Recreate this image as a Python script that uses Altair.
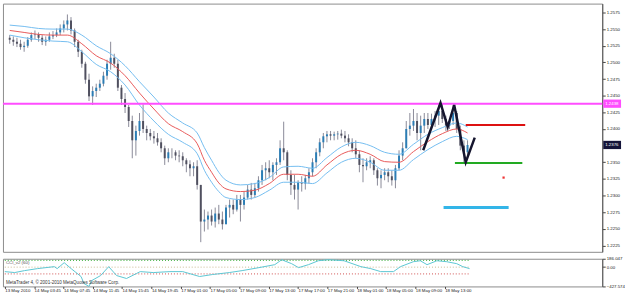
import altair as alt
import pandas as pd

# ---------------- data ----------------
first_open = 1.2537
highs = [1.2541,1.2539,1.2537,1.2534,1.2531,1.2538,1.2545,1.2548,1.2545,1.2541,1.2539,1.2545,1.2547,1.2551,
         1.2557,1.2563,1.2572,1.2568,1.2551,1.2534,1.2519,1.2501,1.2483,1.2464,1.2468,1.2474,1.2486,1.2504,
         1.2531,1.2513,1.2504,1.2466,1.2454,1.2436,1.2420,1.2405,1.2424,1.2437,1.2405,1.2400,1.2397,1.2394,
         1.2386,1.2375,1.2371,1.2371,1.2368,1.2368,1.2365,1.2356,1.2353,1.2350,1.2353,1.2316,1.2279,1.2276,
         1.2279,1.2282,1.2286,1.2276,1.2286,1.2294,1.2294,1.2301,1.2301,1.2306,1.2316,1.2319,1.2319,1.2329,
         1.2346,1.2350,1.2353,1.2350,1.2356,1.2383,1.2411,1.2368,1.2338,1.2331,1.2323,1.2329,1.2331,1.2341,
         1.2356,1.2371,1.2386,1.2394,1.2397,1.2397,1.2396,1.2397,1.2399,1.2397,1.2392,1.2386,1.2383,1.2368,
         1.2356,1.2356,1.2359,1.2356,1.2341,1.2338,1.2341,1.2341,1.2338,1.2346,1.2368,1.2380,1.2412,1.2424,
         1.2430,1.2424,1.2420,1.2424,1.2424,1.2423,1.2427,1.2436,1.2439,1.2420,1.2415,1.2436,1.2427,1.2405,1.2383,1.2383]
lows = [1.2528,1.2525,1.2523,1.2519,1.2516,1.2522,1.2531,1.2535,1.2531,1.2526,1.2525,1.2531,1.2535,1.2538,
        1.2541,1.2545,1.2548,1.2542,1.2523,1.2508,1.2492,1.2468,1.2442,1.2436,1.2448,1.2457,1.2464,1.2474,
        1.2489,1.2492,1.2457,1.2436,1.2424,1.2403,1.2356,1.2360,1.2390,1.2394,1.2383,1.2383,1.2378,1.2375,
        1.2365,1.2346,1.2350,1.2356,1.2353,1.2350,1.2344,1.2335,1.2329,1.2329,1.2309,1.2230,1.2246,1.2249,
        1.2255,1.2252,1.2257,1.2249,1.2257,1.2267,1.2272,1.2276,1.2261,1.2279,1.2294,1.2294,1.2297,1.2306,
        1.2316,1.2323,1.2326,1.2323,1.2331,1.2346,1.2353,1.2323,1.2301,1.2294,1.2279,1.2306,1.2309,1.2318,
        1.2329,1.2341,1.2359,1.2371,1.2380,1.2383,1.2383,1.2384,1.2386,1.2380,1.2374,1.2365,1.2356,1.2335,
        1.2320,1.2338,1.2341,1.2331,1.2315,1.2311,1.2323,1.2320,1.2315,1.2311,1.2338,1.2353,1.2371,1.2390,
        1.2397,1.2383,1.2368,1.2394,1.2400,1.2400,1.2403,1.2406,1.2409,1.2397,1.2400,1.2406,1.2394,1.2368,1.2350,1.2359]
closes = [1.2534,1.2531,1.2528,1.2523,1.2525,1.2534,1.2541,1.2542,1.2537,1.2531,1.2534,1.2539,1.2541,1.2545,
          1.2551,1.2557,1.2563,1.2548,1.2531,1.2516,1.2498,1.2474,1.2449,1.2457,1.2462,1.2468,1.2480,1.2498,
          1.2507,1.2498,1.2462,1.2445,1.2433,1.2412,1.2383,1.2397,1.2412,1.2400,1.2394,1.2389,1.2386,1.2380,
          1.2371,1.2356,1.2365,1.2365,1.2360,1.2359,1.2353,1.2347,1.2341,1.2344,1.2316,1.2261,1.2264,1.2270,
          1.2261,1.2273,1.2264,1.2257,1.2282,1.2286,1.2279,1.2294,1.2286,1.2297,1.2309,1.2301,1.2311,1.2323,
          1.2338,1.2341,1.2335,1.2346,1.2350,1.2371,1.2365,1.2331,1.2316,1.2309,1.2320,1.2318,1.2326,1.2335,
          1.2350,1.2365,1.2380,1.2389,1.2392,1.2390,1.2392,1.2393,1.2390,1.2386,1.2380,1.2371,1.2362,1.2346,
          1.2344,1.2350,1.2353,1.2338,1.2326,1.2331,1.2335,1.2329,1.2323,1.2341,1.2360,1.2371,1.2400,1.2405,
          1.2412,1.2394,1.2405,1.2415,1.2406,1.2415,1.2420,1.2427,1.2415,1.2405,1.2412,1.2424,1.2400,1.2375,1.2365,1.2376]
candle_bars = list(range(0, 2 * len(closes), 2))

ma_bars = [0, 8, 16, 24, 32, 40, 48, 56, 64, 72, 80, 88, 96, 104, 108, 112, 116, 120,
           128, 136, 144, 152, 160, 168, 176, 184, 192, 200, 208, 216, 224, 232, 240, 248, 254]
ma_mid = [1.2548,1.2545,1.2542,1.2541,1.2541,1.2528,1.2510,1.2499,1.2480,1.2454,1.2430,1.2408,1.2396,1.2378,
          1.2353,1.2335,1.2319,1.2310,1.2306,1.2308,1.2318,1.2332,1.2332,1.2329,1.2346,1.2362,1.2368,1.2362,
          1.2351,1.2350,1.2366,1.2381,1.2393,1.2400,1.2394]
ma_up = [1.2556,1.2554,1.2551,1.2550,1.2550,1.2541,1.2525,1.2513,1.2495,1.2471,1.2448,1.2424,1.2409,1.2394,
         1.2372,1.2353,1.2335,1.2323,1.2316,1.2318,1.2327,1.2343,1.2344,1.2341,1.2357,1.2373,1.2380,1.2375,
         1.2365,1.2362,1.2377,1.2392,1.2402,1.2409,1.2403]
ma_dn = [1.2541,1.2537,1.2534,1.2532,1.2531,1.2516,1.2497,1.2486,1.2466,1.2436,1.2412,1.2392,1.2380,1.2363,
         1.2338,1.2320,1.2306,1.2297,1.2294,1.2297,1.2308,1.2320,1.2320,1.2318,1.2334,1.2350,1.2356,1.2350,
         1.2338,1.2338,1.2354,1.2369,1.2381,1.2389,1.2384]

zz_bars = [229.4, 239, 243, 246.6, 253, 258]
zz_price = [1.2368, 1.2439, 1.2403, 1.2436, 1.2350, 1.2387]

level_price = 1.2438
last_price = 1.2376
seg_start = [253, 247, 240.7]
seg_end = [286, 284.4, 276.8]
seg_price = [1.2406, 1.2349, 1.2282]
seg_colors = ["#dd1111", "#22aa22", "#33b5e8"]
seg_widths = [2, 2, 3]
dot_bar = [274]
dot_price = [1.2327]

cci_bars = [0,5.4,10.8,17.8,27,28.6,32.4,36.2,41.6,43.2,45.9,47.5,52.3,56.7,61,66.4,71.8,73.9,81,90.1,
            97.1,106.3,113.3,122.5,129.5,138.7,147.3,151.1,156.5,160.3,165.7,171.1,176.5,185.1,194.3,
            199.7,205.1,212.1,215.9,222.9,226.7,230.4,235.8,241.2,246.6,249.9,253.6]
cci_vals = [-99,-120,-77,-33,11,-33,99,-33,-208,-361,-427,-296,-186,11,-186,-252,-142,-99,-120,-99,
            -99,-208,-164,-120,-77,-11,55,164,77,-11,55,142,164,142,11,
            -33,-99,-99,11,120,142,55,142,120,77,11,-33]
cci_levels = [150, 0, -150]
cci_level_colors = ["#33aa33", "#c8b890", "#d05050"]

x_ticks = list(range(0, 241, 16))
x_labels = ["13 May 2010", "14 May 03:45", "14 May 07:45", "14 May 11:45", "14 May 15:45",
            "14 May 19:45", "17 May 01:00", "17 May 05:00", "17 May 09:00", "17 May 13:00",
            "17 May 17:00", "17 May 21:00", "18 May 01:00", "18 May 05:00", "18 May 09:00", "18 May 13:00"]
y_ticks = [1.2225, 1.2250, 1.2275, 1.2300, 1.2325, 1.2350, 1.2400, 1.2425, 1.2450,
           1.2475, 1.2500, 1.2525, 1.2550, 1.2575]
ind_ticks = [186.047, 0, -427.574]

# ---------------- layout ----------------
W = 606
H_MAIN = 251
H_IND = 28
FONT = "Liberation Sans"
FS = 4.4

x_scale = alt.Scale(domain=[-1, 326], nice=False, zero=False)
y_scale = alt.Scale(domain=[1.22155, 1.25883], nice=False, zero=False)
ind_scale = alt.Scale(domain=[-427.574, 186.047], nice=False, zero=False)

AX_Y = alt.Axis(orient="right", values=y_ticks, format=".4f", labelFontSize=FS,
                labelFont=FONT, tickSize=3, tickColor="#444", domain=True,
                domainColor="#555", labelColor="#222", grid=False, title=None,
                labelPadding=1, labelOverlap=False, labelBound=False)
label_js = "[" + ",".join("'" + s + "'" for s in x_labels) + "][round(datum.value/16)]"
AX_X_IND = alt.Axis(values=x_ticks, labelExpr=label_js, labelAlign="left",
                    labelFontSize=FS, labelFont=FONT, labelColor="#222",
                    tickSize=2, tickColor="#444", grid=False, title=None,
                    domain=False, labelPadding=0, labelOverlap=False, labelBound=False)
AX_Y_IND = alt.Axis(orient="right", values=ind_ticks,
                    labelExpr="datum.value == 0 ? '0.00' : format(datum.value, '.3f')",
                    labelFontSize=FS, labelFont=FONT, labelColor="#222",
                    tickSize=3, tickColor="#444", grid=False, title=None,
                    domainColor="#555", labelPadding=1, labelOverlap=False)

opens = [first_open] + closes[:-1]
cdf = pd.DataFrame({"bar": candle_bars, "open": opens, "high": highs, "low": lows, "close": closes})
cdf["dir"] = ["up" if c >= o else "down" for o, c in zip(opens, closes)]


def X(field="bar:Q"):
    return alt.X(field, scale=x_scale, axis=None)


def Y(field):
    return alt.Y(field, scale=y_scale, axis=AX_Y)


wicks = alt.Chart(cdf).mark_rule(color="#8a8a98", strokeWidth=1).encode(
    x=X(), y=Y("low:Q"), y2="high:Q")
bodies = alt.Chart(cdf).mark_bar(size=2).encode(
    x=X(), y=Y("open:Q"), y2="close:Q",
    color=alt.Color("dir:N", scale=alt.Scale(domain=["up", "down"], range=["#2b7db5", "#50505f"]),
                    legend=None),
)

ma = pd.DataFrame({"bar": ma_bars, "mid": ma_mid, "up": ma_up, "dn": ma_dn})
band_up = alt.Chart(ma).mark_line(color="#74bdf0", strokeWidth=1, interpolate="monotone").encode(
    x=X(), y=Y("up:Q"))
band_dn = alt.Chart(ma).mark_line(color="#74bdf0", strokeWidth=1, interpolate="monotone").encode(
    x=X(), y=Y("dn:Q"))
mid = alt.Chart(ma).mark_line(color="#e85a5a", strokeWidth=1, interpolate="monotone").encode(
    x=X(), y=Y("mid:Q"))

level = alt.Chart(pd.DataFrame({"p": [level_price]})).mark_rule(color="#ff4dff", strokeWidth=2).encode(
    y=Y("p:Q"))

seg_layers = []
for b0, b1, p, c, w in zip(seg_start, seg_end, seg_price, seg_colors, seg_widths):
    seg_layers.append(
        alt.Chart(pd.DataFrame({"b0": [b0], "b1": [b1], "p": [p]})).mark_rule(
            color=c, strokeWidth=w).encode(x=X("b0:Q"), x2="b1:Q", y=Y("p:Q")))

dot = alt.Chart(pd.DataFrame({"bar": dot_bar, "p": dot_price})).mark_square(
    color="#ee3333", size=5, opacity=1).encode(x=X(), y=Y("p:Q"))

zz = pd.DataFrame({"bar": zz_bars, "p": zz_price, "o": list(range(len(zz_bars)))})
zigzag = alt.Chart(zz).mark_line(color="#15152e", strokeWidth=2.5).encode(
    x=X(), y=Y("p:Q"), order="o:Q")


def tag(price, text, bg):
    d = pd.DataFrame({"p": [price], "t": [text]})
    box = alt.Chart(d).transform_calculate(
        lo="datum.p - 0.00062", hi="datum.p + 0.00062").mark_rect(color=bg).encode(
        x=alt.value(W + 1), x2=alt.value(W + 19), y=Y("lo:Q"), y2="hi:Q")
    txt = alt.Chart(d).mark_text(align="left", baseline="middle", fontSize=FS, font=FONT,
                                 color="white").encode(
        x=alt.value(W + 3), y=Y("p:Q"), text="t:N")
    return [box, txt]


main = alt.layer(wicks, bodies, band_up, band_dn, mid, level, *seg_layers, dot, zigzag,
                 *tag(level_price, "1.2438", "#ff4dff"),
                 *tag(last_price, "1.2376", "#14143a")).properties(width=W, height=H_MAIN)

# ---------------- indicator panel ----------------
cci = pd.DataFrame({"bar": cci_bars, "v": cci_vals})


def XI(field):
    return alt.X(field, scale=x_scale, axis=AX_X_IND)


def YI(field):
    return alt.Y(field, scale=ind_scale, axis=AX_Y_IND)


level_layers = []
for v, c in zip(cci_levels, cci_level_colors):
    level_layers.append(
        alt.Chart(pd.DataFrame({"v": [v], "b0": [0], "b1": [254]})).mark_rule(
            strokeDash=[1, 2], strokeWidth=1, color=c).encode(
            x=XI("b0:Q"), x2="b1:Q", y=YI("v:Q")))

cci_line = alt.Chart(cci).mark_line(color="#5cc6d2", strokeWidth=1).encode(
    x=XI("bar:Q"), y=YI("v:Q"))
ind_title = alt.Chart(pd.DataFrame({"t": ["CCI_v2 (60)"]})).mark_text(
    align="left", baseline="top", fontSize=FS, font=FONT, color="#555").encode(
    x=alt.value(3), y=alt.value(2), text="t:N")
mq = alt.Chart(pd.DataFrame({"t": ["MetaTrader 4, \u00a9 2001-2010 MetaQuotes Software Corp."]})).mark_text(
    align="left", baseline="bottom", fontSize=4.6, font=FONT, color="#333").encode(
    x=alt.value(3), y=alt.value(H_IND - 1), text="t:N")

ind = alt.layer(*level_layers, cci_line, ind_title, mq).properties(width=W, height=H_IND)

chart = alt.vconcat(main, ind, spacing=2).properties(
    padding={"left": 1, "top": 1, "right": 0, "bottom": 0}, background="white"
).configure_view(stroke="#8c8c8c", strokeWidth=1).configure_concat(spacing=2)

chart.save("out.html", embed_options={"renderer": "svg", "actions": False})
